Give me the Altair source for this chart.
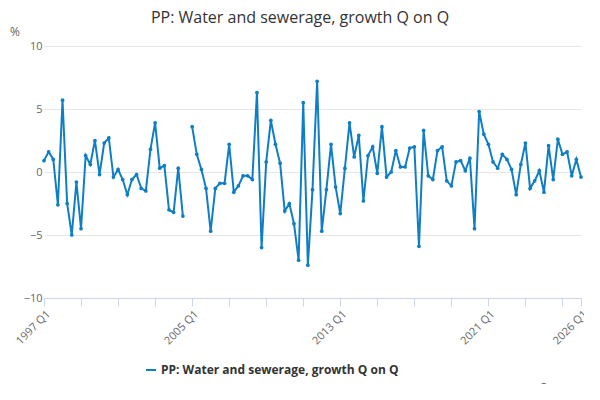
import altair as alt
import pandas as pd

# quarterly growth, 1997 Q1 .. 2026 Q1 (2004 Q4 missing)
part1 = [0.9, 1.6, 1.0, -2.6, 5.7, -2.5, -5.0, -0.8, -4.5, 1.3, 0.6, 2.5, -0.2, 2.3, 2.7, -0.4,
         0.2, -0.6, -1.8, -0.6, -0.2, -1.3, -1.5, 1.8, 3.9, 0.3, 0.5, -3.0, -3.2, 0.3, -3.5]
part2 = [3.6, 1.4, 0.2, -1.3, -4.7, -1.3, -0.9, -0.9, 2.2, -1.6,
         -1.1, -0.3, -0.3, -0.6, 6.3, -6.0, 0.8, 4.1, 2.2, 0.7,
         -3.1, -2.5, -4.1, -7.0, 5.5, -7.4, -1.4, 7.2, -4.7, -1.4,
         2.2, -1.2, -3.3, 0.3, 3.9, 1.2, 2.9, -2.3, 1.3, 2.0,
         -0.1, 3.6, -0.4, 0.0, 1.7, 0.4, 0.4, 1.9, 2.0, -5.9,
         3.3, -0.3, -0.6, 1.7, 2.0, -0.7, -1.1, 0.8, 0.9, 0.1,
         1.1, -4.5, 4.8, 3.0, 2.2, 0.8, 0.3, 1.4, 1.0, 0.2,
         -1.8, 0.6, 2.3, -1.3, -0.7, 0.1, -1.6, 2.1, -0.6, 2.6,
         1.4, 1.6, -0.3, 1.0, -0.4]
values = part1 + [None] + part2
series = "PP: Water and sewerage, growth Q on Q"
tick_vals = list(range(0, 113, 8)) + [116]

df = pd.DataFrame({"t": range(len(values)), "v": values, "s": series})

line = alt.Chart(df).mark_line(
    point=alt.OverlayMarkDef(size=14, filled=True), strokeWidth=2
).encode(
    x=alt.X("t:Q", title=None, scale=alt.Scale(domain=[0, 116], nice=False, zero=False),
            axis=alt.Axis(values=tick_vals, grid=False, labelAngle=-45, labelAlign="right",
                          labelOverlap=False, labelBound=False,
                          labelExpr="(datum.value % 32 == 0 || datum.value == 116) ? (1997 + floor(datum.value / 4)) + ' Q1' : ''",
                          domainColor="#ccd6eb", tickColor="#ccd6eb", labelColor="#666666",
                          labelFontSize=11, tickSize=8, labelFont="Open Sans")),
    y=alt.Y("v:Q", title=None, scale=alt.Scale(domain=[-10, 10]),
            axis=alt.Axis(values=[-10, -5, 0, 5, 10], domain=False, ticks=False, gridColor="#e6e6e6",
                          labelColor="#666666", labelFontSize=11, labelFont="Open Sans")),
    color=alt.Color("s:N", scale=alt.Scale(range=["#0f7ec4"]), title=None,
                    legend=alt.Legend(orient="none", legendX=101, legendY=318, symbolType="stroke",
                                      labelFontSize=12, labelFontWeight="bold", labelColor="#333333",
                                      labelFont="Open Sans", symbolStrokeWidth=2, labelLimit=400)),
)

unit = alt.Chart(pd.DataFrame({"a": ["%"]})).mark_text(
    align="left", fontSize=12, color="#666666", font="Open Sans"
).encode(text="a:N", x=alt.value(-34), y=alt.value(-14))

heading = alt.Chart(pd.DataFrame({"a": [series]})).mark_text(
    align="center", fontSize=16, color="#333333", font="Open Sans"
).encode(text="a:N", x=alt.value(256), y=alt.value(-28))

source = alt.Chart(pd.DataFrame({"a": ["Source:"]})).mark_text(
    align="right", fontSize=12, color="#666666", font="Open Sans"
).encode(text="a:N", x=alt.value(538), y=alt.value(342))

chart = alt.layer(line, unit, heading, source).properties(
    width=537, height=252,
    autosize=alt.AutoSizeParams(type="none"),
    padding={"left": 36, "top": 38, "right": 3, "bottom": 86},
).configure_view(stroke=None)

chart.save("out.html", embed_options={"renderer": "svg", "actions": False})
